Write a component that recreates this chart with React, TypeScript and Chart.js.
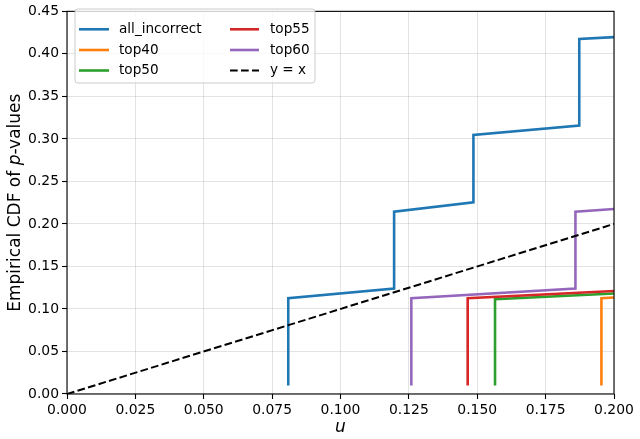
import React, { useEffect, useRef } from "react";
import { Chart, registerables } from "chart.js";

Chart.register(...registerables);

const seriesLabels = ["all_incorrect", "top40", "top50", "top55", "top60", "y = x"];
const seriesColors = ["#1f77b4", "#ff7f0e", "#2ca02c", "#d62728", "#9467bd", "#000000"];

const allIncorrectX = [0.0809, 0.0809, 0.1196, 0.1196, 0.1486, 0.1486, 0.1873, 0.1873, 0.2];
const allIncorrectY = [0.01, 0.1127, 0.1239, 0.2145, 0.2254, 0.3047, 0.3156, 0.4174, 0.4197];
const top40X = [0.1954, 0.1954, 0.2];
const top40Y = [0.01, 0.1127, 0.1135];
const top50X = [0.1565, 0.1565, 0.2];
const top50Y = [0.01, 0.1115, 0.1181];
const top55X = [0.1465, 0.1465, 0.2];
const top55Y = [0.01, 0.1127, 0.1212];
const top60X = [0.1259, 0.1259, 0.1859, 0.1859, 0.2];
const top60Y = [0.01, 0.1127, 0.1239, 0.2145, 0.2176];
const diagX = [0, 0.2];
const diagY = [0, 0.2];

const xTicks = [0, 0.025, 0.05, 0.075, 0.1, 0.125, 0.15, 0.175, 0.2];
const yTicks = [0, 0.05, 0.1, 0.15, 0.2, 0.25, 0.3, 0.35, 0.4, 0.45];

const seriesX = [allIncorrectX, top40X, top50X, top55X, top60X, diagX];
const seriesY = [allIncorrectY, top40Y, top50Y, top55Y, top60Y, diagY];

const FONT = "'DejaVu Sans', sans-serif";

const decorPlugin = {
  id: "decor",
  afterDraw(chart: any) {
    const ctx = chart.ctx as CanvasRenderingContext2D;
    const a = chart.chartArea;
    ctx.save();
    // frame
    ctx.strokeStyle = "#000";
    ctx.lineWidth = 1.1;
    ctx.strokeRect(a.left, a.top, a.right - a.left, a.bottom - a.top);

    // x title
    ctx.fillStyle = "#000";
    ctx.font = `italic 17px ${FONT}`;
    ctx.textAlign = "center";
    ctx.textBaseline = "alphabetic";
    ctx.fillText("u", (a.left + a.right) / 2, 432);

    // y title
    const parts = [
      { t: "Empirical CDF of ", f: `17px ${FONT}` },
      { t: "p", f: `italic 17px ${FONT}` },
      { t: "-values", f: `17px ${FONT}` },
    ];
    let total = 0;
    const widths = parts.map((p) => {
      ctx.font = p.f;
      const w = ctx.measureText(p.t).width;
      total += w;
      return w;
    });
    ctx.translate(20, (a.top + a.bottom) / 2);
    ctx.rotate(-Math.PI / 2);
    ctx.textAlign = "left";
    ctx.textBaseline = "alphabetic";
    let x = -total / 2;
    parts.forEach((p, i) => {
      ctx.font = p.f;
      ctx.fillText(p.t, x, 0);
      x += widths[i];
    });
    ctx.restore();

    // legend
    ctx.save();
    const bx = 75, by = 9, bw = 240, bh = 74, r = 3;
    ctx.beginPath();
    ctx.moveTo(bx + r, by);
    ctx.lineTo(bx + bw - r, by);
    ctx.quadraticCurveTo(bx + bw, by, bx + bw, by + r);
    ctx.lineTo(bx + bw, by + bh - r);
    ctx.quadraticCurveTo(bx + bw, by + bh, bx + bw - r, by + bh);
    ctx.lineTo(bx + r, by + bh);
    ctx.quadraticCurveTo(bx, by + bh, bx, by + bh - r);
    ctx.lineTo(bx, by + r);
    ctx.quadraticCurveTo(bx, by, bx + r, by);
    ctx.closePath();
    ctx.fillStyle = "rgba(255,255,255,0.8)";
    ctx.fill();
    ctx.strokeStyle = "#cccccc";
    ctx.lineWidth = 1;
    ctx.stroke();

    const ds = chart.data.datasets;
    const rowsY = [29.3, 50, 70.5];
    const cols = [
      { l0: 79, l1: 109, tx: 119 },
      { l0: 230, l1: 259, tx: 270 },
    ];
    ctx.font = `13.6px ${FONT}`;
    ctx.textBaseline = "middle";
    ctx.textAlign = "left";
    ds.forEach((d: any, i: number) => {
      const c = cols[Math.floor(i / 3)];
      const y = rowsY[i % 3];
      ctx.beginPath();
      ctx.strokeStyle = d.borderColor;
      ctx.lineWidth = d.borderWidth;
      ctx.setLineDash(d.borderDash || []);
      ctx.moveTo(c.l0, y);
      ctx.lineTo(c.l1, y);
      ctx.stroke();
      ctx.setLineDash([]);
      ctx.fillStyle = "#000";
      ctx.fillText(d.label, c.tx, y);
    });
    ctx.restore();
  },
};

export default function App() {
  const ref = useRef<HTMLCanvasElement | null>(null);
  useEffect(() => {
    if (!ref.current) return;
    const datasets = seriesLabels.map((label, i) => ({
      label,
      data: seriesX[i].map((x, j) => ({ x, y: seriesY[i][j] })),
      borderColor: seriesColors[i],
      backgroundColor: seriesColors[i],
      borderWidth: i === 5 ? 2 : 2.6,
      borderDash: i === 5 ? [7.7, 3.3] : undefined,
      showLine: true,
      pointRadius: 0,
      tension: 0,
      fill: false,
      order: -i,
    }));
    const chart = new Chart(ref.current, {
      type: "scatter",
      data: { datasets: datasets as any },
      options: {
        animation: false,
        responsive: false,
        devicePixelRatio: 1,
        layout: { padding: { left: 0, right: 26, top: 8, bottom: 0 } },
        plugins: { legend: { display: false }, tooltip: { enabled: false } },
        scales: {
          x: {
            type: "linear",
            min: 0,
            max: 0.2,
            afterFit: (s: any) => {
              s.height = 45;
            },
            afterBuildTicks: (s: any) => {
              s.ticks = xTicks.map((v) => ({ value: v }));
            },
            ticks: {
              callback: (v: any) => Number(v).toFixed(3),
              font: { family: FONT, size: 13.9 },
              color: "#000",
              padding: 3,
              maxRotation: 0,
              autoSkip: false,
            },
            grid: {
              color: "rgba(176,176,176,0.35)",
              lineWidth: 1,
              tickColor: "#000",
              tickLength: 5,
              tickWidth: 1.1,
            },
            border: { display: false },
          },
          y: {
            type: "linear",
            min: 0,
            max: 0.45,
            afterFit: (s: any) => {
              s.width = 67;
            },
            afterBuildTicks: (s: any) => {
              s.ticks = yTicks.map((v) => ({ value: v }));
            },
            ticks: {
              callback: (v: any) => Number(v).toFixed(2),
              font: { family: FONT, size: 13.9 },
              color: "#000",
              padding: 3,
              autoSkip: false,
            },
            grid: {
              color: "rgba(176,176,176,0.35)",
              lineWidth: 1,
              tickColor: "#000",
              tickLength: 5,
              tickWidth: 1.1,
            },
            border: { display: false },
          },
        },
      },
      plugins: [decorPlugin],
    });
    return () => chart.destroy();
  }, []);
  return (
    <div style={{ position: "absolute", left: 0, top: 0, width: 640, height: 439, background: "#fff" }}>
      <canvas ref={ref} width={640} height={439} style={{ width: 640, height: 439 }} />
    </div>
  );
}
